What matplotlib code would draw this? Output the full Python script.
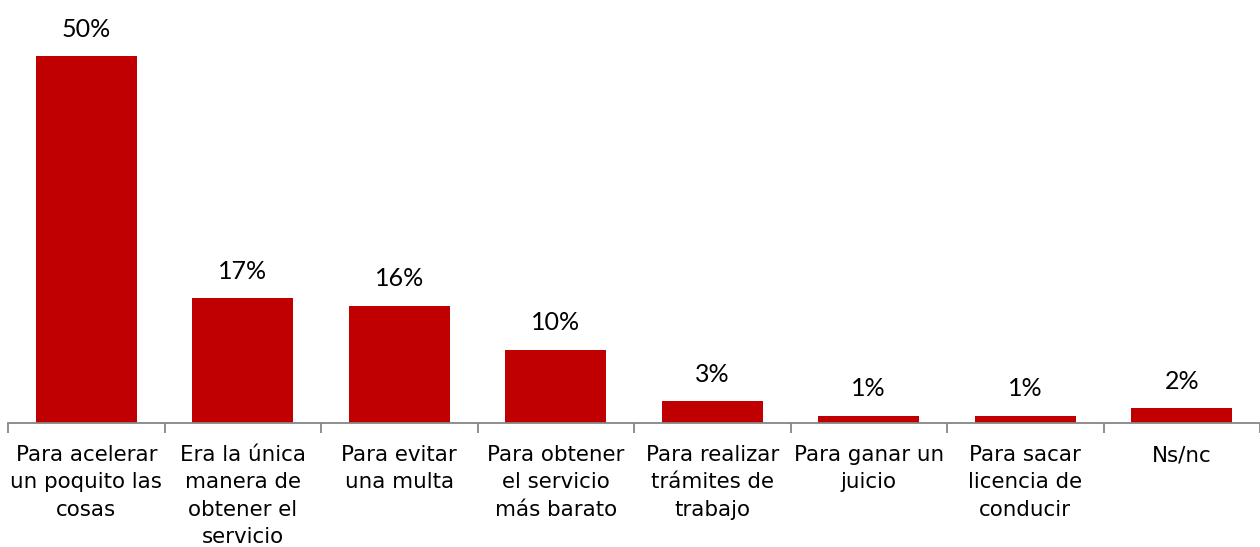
import matplotlib
matplotlib.use('Agg')
import matplotlib.pyplot as plt
import numpy as np

# Chart data
categories = [
    "Para acelerar\nun poquito las\ncosas",
    "Era la única\nmanera de\nobtener el\nservicio",
    "Para evitar\nuna multa",
    "Para obtener\nel servicio\nmás barato",
    "Para realizar\ntrámites de\ntrabajo",
    "Para ganar un\njuicio",
    "Para sacar\nlicencia de\nconducir",
    "Ns/nc",
]
values = [50, 17, 16, 10, 3, 1, 1, 2]
value_labels = ["50%", "17%", "16%", "10%", "3%", "1%", "1%", "2%"]

BAR_COLOR = '#C00000'
AXIS_COLOR = '#868686'

fig = plt.figure(figsize=(12.6, 5.47), dpi=100)
ax = fig.add_axes([8 / 1260, 124 / 547, 1 - 8 / 1260, 423 / 547])

x = np.arange(len(values))
ax.bar(x, values, width=0.645, color=BAR_COLOR, zorder=2)

ax.set_xlim(-0.5, len(values) - 0.5)
ax.set_ylim(0, 57.6)

# value labels above the bars
for xi, v, lab in zip(x, values, value_labels):
    ax.annotate(lab, (xi, v), xytext=(0, 11), textcoords='offset points',
                ha='center', va='bottom', fontsize=18, family='Lato',
                color='black')

# axes styling
for side in ['top', 'right', 'left']:
    ax.spines[side].set_visible(False)
ax.spines['bottom'].set_color(AXIS_COLOR)
ax.spines['bottom'].set_linewidth(1.3)
ax.set_yticks([])

# category boundary ticks
ax.set_xticks(np.arange(-0.5, len(values), 1.0))
ax.set_xticklabels([])
ax.tick_params(axis='x', which='major', length=7, width=1.3, color=AXIS_COLOR)
ax.set_xticks(x, minor=True)
ax.set_xticklabels(categories, minor=True, fontsize=15.4, linespacing=1.45,
                   family='DejaVu Sans', ha='center', va='top')
ax.tick_params(axis='x', which='minor', length=0, pad=16)

fig.savefig('out.png', dpi=100)
